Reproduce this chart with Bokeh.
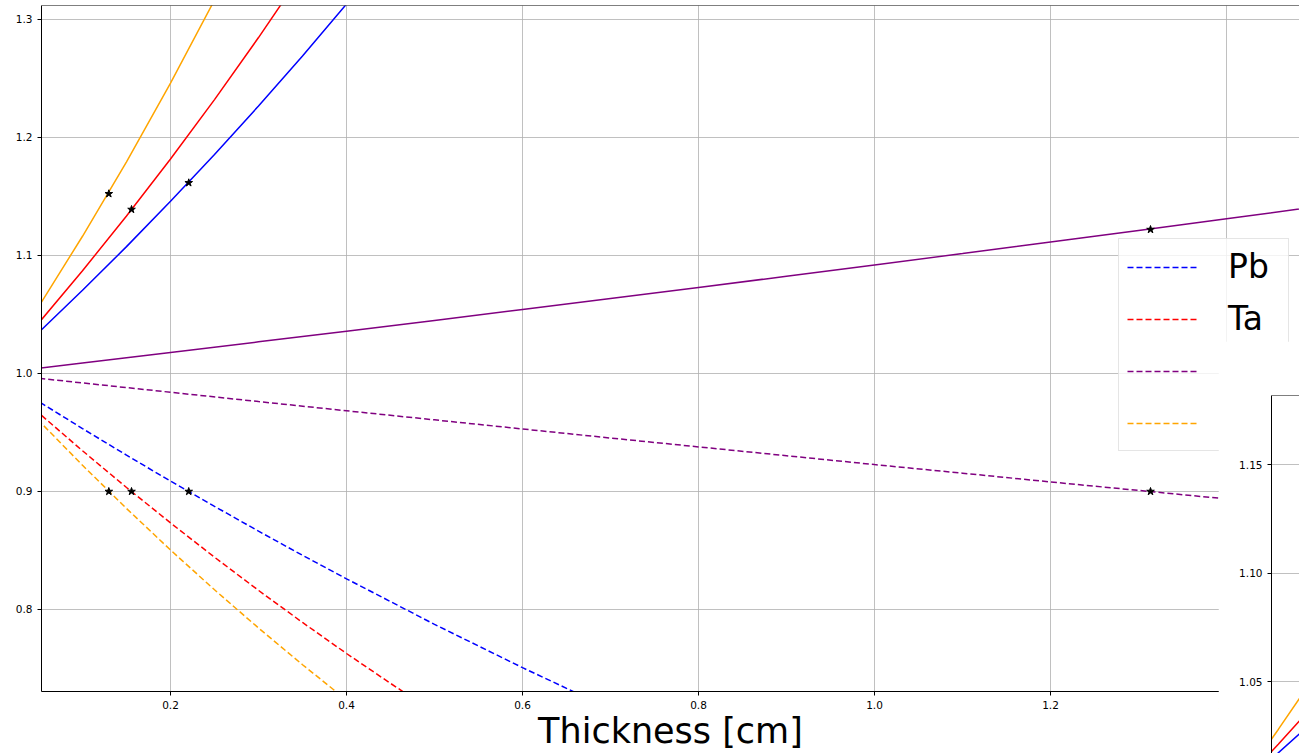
from bokeh.plotting import figure
from bokeh.layouts import column
from bokeh.models import Range1d, FixedTicker, Legend, LegendItem, Span, PrintfTickFormatter
from bokeh.embed import file_html
from bokeh.resources import INLINE

# ---------------- data ----------------
pb_x_solid = [0.0, 0.025, 0.05, 0.1, 0.15, 0.2, 0.25, 0.3, 0.35, 0.4, 0.45]
pb_solid = [1.0, 1.0171, 1.0346, 1.0705, 1.1075, 1.1459, 1.1856, 1.2267, 1.2691, 1.3131, 1.3586]
pb_x_dashed = [0.0, 0.05, 0.1, 0.15, 0.2, 0.25, 0.3, 0.35, 0.4, 0.5, 0.6, 0.7]
pb_dashed = [1.0, 0.9764, 0.9533, 0.9308, 0.9088, 0.8874, 0.8664, 0.8459, 0.8260, 0.7874, 0.7507, 0.7157]

ta_x_solid = [0.0, 0.025, 0.05, 0.1, 0.15, 0.2, 0.25, 0.3, 0.35]
ta_solid = [1.0, 1.0211, 1.0426, 1.0871, 1.1334, 1.1818, 1.2321, 1.2847, 1.3394]
ta_x_dashed = [0.0, 0.05, 0.1, 0.15, 0.2, 0.25, 0.3, 0.35, 0.4, 0.45, 0.5]
ta_dashed = [1.0, 0.9667, 0.9345, 0.9034, 0.8734, 0.8443, 0.8162, 0.7890, 0.7627, 0.7374, 0.7128]

al_x = [0.0, 0.05, 0.1, 0.2, 0.3, 0.4, 0.5, 0.6, 0.7, 0.8, 0.9, 1.0, 1.1, 1.2, 1.3, 1.4, 1.5]
al_solid = [1.0, 1.0044, 1.0088, 1.0178, 1.0268, 1.0358, 1.0450, 1.0542, 1.0635, 1.0729,
            1.0824, 1.0920, 1.1016, 1.1114, 1.1212, 1.1311, 1.1411]
al_dashed = [1.0, 0.9960, 0.9920, 0.9841, 0.9762, 0.9684, 0.9607, 0.9530, 0.9453, 0.9378,
             0.9303, 0.9228, 0.9155, 0.9081, 0.9009, 0.8937, 0.8865]

w_x_solid = [0.0, 0.025, 0.05, 0.1, 0.15, 0.2, 0.25, 0.3]
w_solid = [1.0, 1.0279, 1.0565, 1.1163, 1.1794, 1.2461, 1.3165, 1.3910]
w_x_dashed = [0.0, 0.05, 0.1, 0.15, 0.2, 0.25, 0.3, 0.35, 0.4]
w_dashed = [1.0, 0.9603, 0.9222, 0.8856, 0.8504, 0.8167, 0.7843, 0.7532, 0.7233]

star_x = [0.1299, 0.1557, 0.2207, 1.3136]
star_low = [0.9, 0.9, 0.9, 0.9]
star_high = [1.1523, 1.1390, 1.1616, 1.1220]

legend_labels = ["Pb", "Ta", "Al", "W"]
series_colors = ["blue", "red", "purple", "orange"]
x_ticks = [0.2, 0.4, 0.6, 0.8, 1.0, 1.2, 1.4]
y_ticks = [0.8, 0.9, 1.0, 1.1, 1.2, 1.3]
inset_y_ticks = [1.05, 1.10, 1.15]
x_title = "Thickness [cm]"

FONT = "DejaVu Sans"
GRID = "#b0b0b0"

solids = [(pb_x_solid, pb_solid), (ta_x_solid, ta_solid), (al_x, al_solid), (w_x_solid, w_solid)]
dashes = [(pb_x_dashed, pb_dashed), (ta_x_dashed, ta_dashed), (al_x, al_dashed), (w_x_dashed, w_dashed)]


def style_axis(ax, fmt):
    ax.formatter = PrintfTickFormatter(format=fmt)
    ax.axis_line_color = "black"
    ax.axis_line_width = 1
    ax.major_tick_line_color = "black"
    ax.major_tick_line_width = 1
    ax.major_tick_out = 4
    ax.major_tick_in = 0
    ax.minor_tick_out = 0
    ax.minor_tick_in = 0
    ax.major_label_text_font = FONT
    ax.major_label_text_font_size = "10.5px"
    ax.major_label_text_color = "black"
    ax.major_label_standoff = 5


# ---------------- main plot ----------------
Y_TOP = 1.31186
main = figure(width=1311, height=753,
              x_range=Range1d(0.0534, 1.4829), y_range=Range1d(0.7305, Y_TOP),
              output_backend="svg", toolbar_location=None,
              min_border_left=41, min_border_right=0, min_border_top=5, min_border_bottom=62,
              outline_line_color=None, background_fill_color="white", border_fill_color="white")

main.xaxis.ticker = FixedTicker(ticks=x_ticks)
main.yaxis.ticker = FixedTicker(ticks=y_ticks)
style_axis(main.xaxis[0], "%.1f")
style_axis(main.yaxis[0], "%.1f")
main.xaxis.axis_label = x_title
main.xaxis.axis_label_text_font = FONT
main.xaxis.axis_label_text_font_size = "35px"
main.xaxis.axis_label_text_font_style = "normal"
main.xaxis.axis_label_text_color = "black"
main.xaxis.axis_label_standoff = -1
main.grid.grid_line_color = GRID
main.grid.grid_line_width = 0.8

dash_renderers = []
for (xs, ys), (xd, yd), c in zip(solids, dashes, series_colors):
    main.line(xs, ys, line_color=c, line_width=1.5)
    r = main.line(xd, yd, line_color=c, line_width=1.5, line_dash="6 3")
    dash_renderers.append(r)

main.scatter(star_x, star_low, marker="star", size=8, color="black")
main.scatter(star_x, star_high, marker="star", size=8, color="black")

main.add_layout(Span(location=Y_TOP, dimension="width", line_color="black", line_width=1))

legend = Legend(items=[LegendItem(label=lab, renderers=[r]) for lab, r in zip(legend_labels, dash_renderers)],
                location=(1077, 240))
legend.label_text_font = FONT
legend.label_text_font_size = "33px"
legend.label_text_color = "black"
legend.glyph_width = 72
legend.glyph_height = 38
legend.label_height = 38
legend.label_width = 52
legend.label_standoff = 29
legend.spacing = 13
legend.padding = 8
legend.margin = 0
legend.border_line_color = "#cccccc"
legend.border_line_width = 1
legend.background_fill_color = "white"
legend.background_fill_alpha = 0.8
main.add_layout(legend)

# ---------------- inset ----------------
I_TOP = 1.182
inset = figure(width=81, height=412,
               x_range=Range1d(0.021, 0.0375), y_range=Range1d(1.0168, I_TOP),
               output_backend="svg", toolbar_location=None, x_axis_location=None,
               min_border_left=53, min_border_right=0, min_border_top=54, min_border_bottom=0,
               outline_line_color=None, background_fill_color="white", border_fill_color="white",
               margin=(-412, 0, 0, 1230))
inset.yaxis.ticker = FixedTicker(ticks=inset_y_ticks)
style_axis(inset.yaxis[0], "%.2f")
inset.ygrid.grid_line_color = GRID
inset.ygrid.grid_line_width = 0.8
inset.xgrid.visible = False
for (xs, ys), (xd, yd), c in zip(solids, dashes, series_colors):
    inset.line(xs, ys, line_color=c, line_width=1.5)
    inset.line(xd, yd, line_color=c, line_width=1.5, line_dash="6 3")
inset.add_layout(Span(location=I_TOP, dimension="width", line_color="black", line_width=1))

layout = column(main, inset, width=1311, margin=(0, 0, 0, -12))
open("out.html", "w").write(file_html(layout, INLINE))
